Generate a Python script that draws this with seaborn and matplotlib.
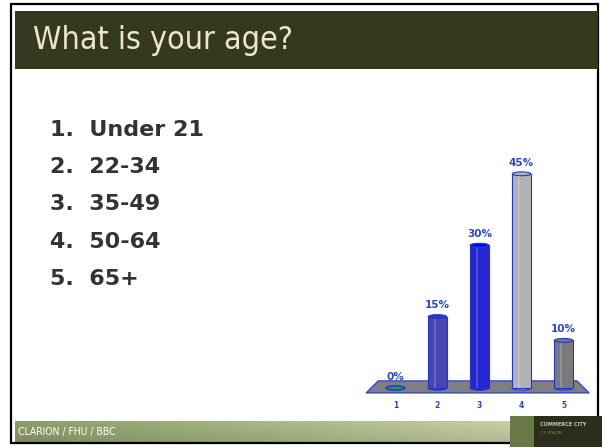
"""Slide recreation: age question with 3D-style bar results."""

import numpy as np
import pandas as pd
import matplotlib.pyplot as plt
import seaborn as sns
from matplotlib.patches import Rectangle, Ellipse, Polygon
from matplotlib import font_manager

title = 'What is your age?'
choices = ['Under 21', '22-34', '35-49', '50-64', '65+']
bar_labels = ['1', '2', '3', '4', '5']
shares = [0, 15, 30, 45, 10]
bar_colors = ['#1f9a5a', '#3434c4', '#0808ee', '#b2b2b2', '#7a7a7a']
footer = 'CLARION / FHU / BBC'

sns.set_style('white')
plt.rcParams['font.family'] = ['DejaVu Sans']

# pick a narrow face if one is installed
names = {f.name for f in font_manager.fontManager.ttflist}
narrow = [n for n in ['Liberation Sans Narrow', 'DejaVu Sans Condensed'] if n in names] or ['DejaVu Sans']

W, H = 602, 447
fig = plt.figure(figsize=(W / 100, H / 100), dpi=100)
fig.patch.set_facecolor('white')


def box(x0, y0, x1, y1):
    """Pixel box (top-left origin) to figure-fraction rect."""
    return (x0 / W, 1 - y1 / H, (x1 - x0) / W, (y1 - y0) / H)


def add_rect(x0, y0, x1, y1, **kw):
    l, b, w, h = box(x0, y0, x1, y1)
    fig.patches.append(Rectangle((l, b), w, h, transform=fig.transFigure, **kw))


# slide frame, title bar
add_rect(11, 4, 598, 443, facecolor='none', edgecolor='black', linewidth=1.6)
add_rect(15, 11, 598, 69, facecolor='#353a1e', edgecolor='none')
fig.text(33 / W, 1 - 41 / H, title, fontsize=23, color='#ebe6cc', va='center',
         family=narrow, fontstretch='condensed')

# answer list
for i, c in enumerate(choices):
    fig.text(50 / W, 1 - (130 + 37.2 * i) / H, f'{i + 1}.  {c}', fontsize=16,
             fontweight='bold', color='#333333', va='center', family=['DejaVu Sans'])

# footer gradient bar
fax = fig.add_axes(box(15, 421, 512, 442))
grad = np.linspace(0, 1, 256)[None, :, None]
c0 = np.array([0x86, 0x95, 0x62]) / 255
c1 = np.array([0xbd, 0xc6, 0x9c]) / 255
vert = np.linspace(1.06, 0.94, 20)[:, None, None]
img = np.clip((c0 + (c1 - c0) * grad) * vert, 0, 1)
fax.imshow(img, aspect='auto', extent=(0, 1, 0, 1))
fax.set_axis_off()
fig.text(18 / W, 1 - 432 / H, footer, fontsize=7.5, color='white', va='center',
         family=narrow, fontstretch='condensed')

# logo block
add_rect(510, 416, 602, 447, facecolor='#2a2e1b', edgecolor='none')
add_rect(510, 416, 534, 447, facecolor='#6a7848', edgecolor='none')
fig.text(540 / W, 1 - 425 / H, 'COMMERCE CITY', fontsize=3.6, color='#c9ccb4',
         fontweight='bold', va='center')
fig.text(540 / W, 1 - 433 / H, 'C3 VISION', fontsize=3.2, color='#7d8a5c', va='center')

# chart
ax = fig.add_axes(box(366, 150, 593, 388))
ax.set_facecolor('none')
df = pd.DataFrame({'label': bar_labels, 'share': shares})
edge = '#2236cc'
sns.barplot(data=df, x='label', y='share', hue='label', palette=bar_colors,
            legend=False, width=0.44, edgecolor=edge, linewidth=0.8, ax=ax)
ax.set_xlim(-0.7, 4.7)
ax.set_ylim(0, 50)

floor = Polygon([(-0.7, -1.05), (-0.41, 1.5), (4.32, 1.5), (4.61, -1.05)],
                closed=True, facecolor='#7f7f7f', edgecolor=edge, linewidth=0.8,
                zorder=0.5, clip_on=False)
ax.add_patch(floor)

for p, v, col in zip(ax.patches, shares, bar_colors):
    cx = p.get_x() + p.get_width() / 2
    w = p.get_width()
    p.set_zorder(2)
    p.set_clip_on(False)
    # cylinder base and highlight stripe
    ax.add_patch(Ellipse((cx, 0), w, 0.9, facecolor=col, edgecolor=edge,
                         linewidth=0.8, zorder=1.5, clip_on=False))
    if v > 0:
        ax.add_patch(Rectangle((cx - w * 0.18, 0), w * 0.12, v, facecolor='white',
                               alpha=0.18, edgecolor='none', zorder=2.5))
    ax.add_patch(Ellipse((cx, v), w, 0.8, facecolor=col, edgecolor=edge,
                         linewidth=0.8, zorder=3, clip_on=False))
    ax.text(cx, v + 1.3, f'{v}%', ha='center', va='bottom', color='#2a45cc',
            fontsize=7.5, fontweight='bold', zorder=4)

sns.despine(ax=ax, left=True, bottom=True)
ax.set_yticks([])
ax.set_xlabel('')
ax.set_ylabel('')
ax.tick_params(axis='x', length=0, pad=9, labelsize=5.5, labelcolor='#2a45cc')
for t in ax.get_xticklabels():
    t.set_fontweight('bold')

plt.savefig('out.png', dpi=100)
